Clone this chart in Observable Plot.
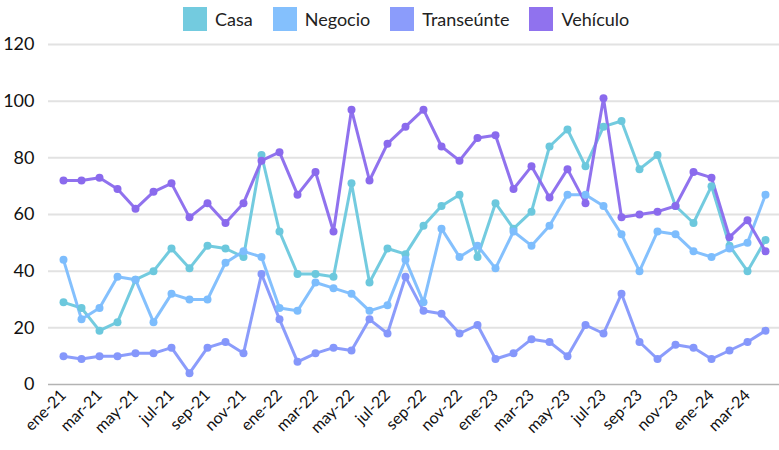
<!DOCTYPE html>
<html>
<head>
<meta charset="utf-8">
<script src="https://cdn.jsdelivr.net/npm/d3@7"></script>
<script src="https://cdn.jsdelivr.net/npm/@observablehq/plot@0.6"></script>
<style>
  html, body { margin: 0; padding: 0; background: #fff; }
  body { width: 779px; height: 450px; overflow: hidden; position: relative; font-family: Lato, "Noto Sans", sans-serif; }
  #legend { position: absolute; top: 0; left: 0; width: 779px; height: 38px; display: flex; align-items: center; padding-left: 183px; box-sizing: border-box; font-size: 18px; color: #222; z-index: 2; }
  .item { display: flex; align-items: center; margin-right: 20px; }
  .sw { width: 24px; height: 24px; margin-right: 8px; opacity: 0.95; }
</style>
</head>
<body>
<div id="legend"></div>
<div id="chart"></div>
<script>
const months = ["ene-21","feb-21","mar-21","abr-21","may-21","jun-21","jul-21","ago-21","sep-21","oct-21","nov-21","dic-21",
  "ene-22","feb-22","mar-22","abr-22","may-22","jun-22","jul-22","ago-22","sep-22","oct-22","nov-22","dic-22",
  "ene-23","feb-23","mar-23","abr-23","may-23","jun-23","jul-23","ago-23","sep-23","oct-23","nov-23","dic-23",
  "ene-24","feb-24","mar-24","abr-24"];
const seriesNames = ["Casa","Negocio","Transeúnte","Vehículo"];
const seriesColors = ["#6CC8DD","#7DBDFD","#8597FB","#8A6AED"];
const casa = [29,27,19,22,37,40,48,41,49,48,45,81,54,39,39,38,71,36,48,46,56,63,67,45,64,55,61,84,90,77,91,93,76,81,63,57,70,49,40,51];
const negocio = [44,23,27,38,37,22,32,30,30,43,47,45,27,26,36,34,32,26,28,44,29,55,45,49,41,54,49,56,67,67,63,53,40,54,53,47,45,48,50,67];
const transeunte = [10,9,10,10,11,11,13,4,13,15,11,39,23,8,11,13,12,23,18,38,26,25,18,21,9,11,16,15,10,21,18,32,15,9,14,13,9,12,15,19];
const vehiculo = [72,72,73,69,62,68,71,59,64,57,64,79,82,67,75,54,97,72,85,91,97,84,79,87,88,69,77,66,76,64,101,59,60,61,63,75,73,52,58,47];
const yTicks = [0,20,40,60,80,100,120];
const xTicks = months.filter((m, i) => i % 2 === 0);

const valuesBySeries = [casa, negocio, transeunte, vehiculo];
const data = [];
seriesNames.forEach((s, k) => valuesBySeries[k].forEach((v, i) => data.push({month: months[i], value: v, series: s})));

const legend = document.getElementById("legend");
seriesNames.forEach((s, k) => {
  const it = document.createElement("div");
  it.className = "item";
  it.innerHTML = `<span class="sw" style="background:${seriesColors[k]}"></span><span>${s}</span>`;
  legend.appendChild(it);
});

const chart = Plot.plot({
  width: 779,
  height: 450,
  marginTop: 44,
  marginBottom: 66,
  marginLeft: 48,
  marginRight: 0,
  style: {fontFamily: "Lato, 'Noto Sans', sans-serif", fontSize: "16px", color: "#111", background: "#fff"},
  x: {type: "point", domain: months, padding: 0.5, label: null},
  y: {domain: [0, 120], label: null},
  color: {domain: seriesNames, range: seriesColors},
  marks: [
    Plot.ruleY(yTicks.filter(d => d > 0), {stroke: "#e2e2e2", strokeWidth: 2}),
    Plot.ruleY([0], {stroke: "#b3b3b3", strokeWidth: 1.5}),
    Plot.axisY({ticks: yTicks, tickSize: 0, tickPadding: 14, fontSize: 18, label: null}),
    Plot.axisX({ticks: xTicks, tickSize: 0, tickPadding: 8, tickRotate: -45, fontSize: 16, label: null}),
    Plot.line(data, {x: "month", y: "value", z: "series", stroke: "series", strokeWidth: 3, strokeOpacity: 0.95}),
    Plot.dot(data, {x: "month", y: "value", fill: "series", r: 4})
  ]
});
document.getElementById("chart").appendChild(chart);
</script>
</body>
</html>
